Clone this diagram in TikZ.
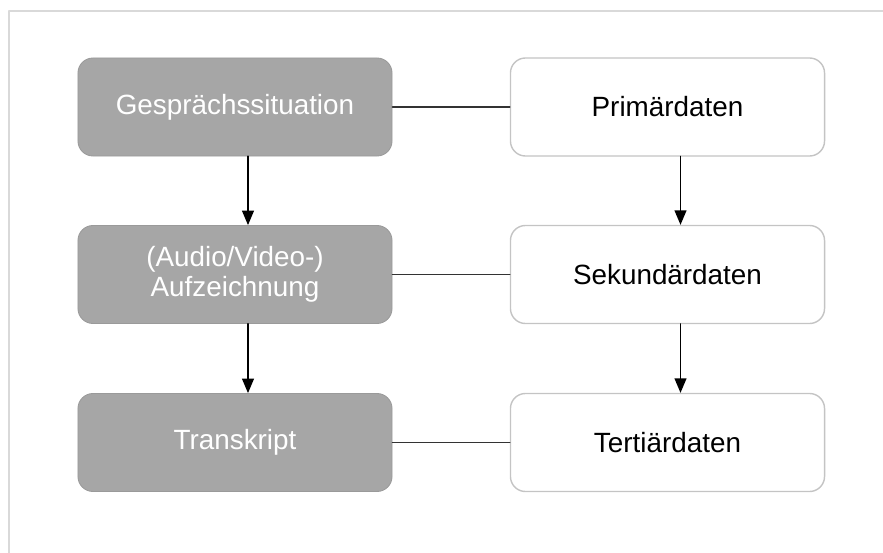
\documentclass[tikz,border=0pt]{standalone}
\usepackage{fontspec}
\setmainfont{Liberation Sans}
\usepackage{xcolor}
\usetikzlibrary{arrows}
\definecolor{boxgray}{HTML}{A6A6A6}
\definecolor{boxline}{HTML}{9A9A9A}
\definecolor{rimgray}{HTML}{C4C4C4}
\definecolor{framegray}{HTML}{D9D9D9}
\tikzset{
  darkbox/.style={rectangle,rounded corners=0.375cm,fill=boxgray,draw=boxline,line width=0.6pt,
    minimum width=7.85cm,minimum height=2.45cm,text=white,align=center,
    font=\fontsize{19.8}{21.5}\selectfont},
  lightbox/.style={rectangle,rounded corners=0.375cm,fill=white,draw=rimgray,line width=1pt,
    minimum width=7.85cm,minimum height=2.45cm,text=black,align=center,
    font=\fontsize{19.8}{21.5}\selectfont},
  link/.style={line width=1.1pt,color=black!80},
  flow/.style={->,line width=1.4pt,color=black}
}
\begin{document}
\begin{tikzpicture}[line cap=round,line join=round,>=triangle 45,x=0.025cm,y=-0.025cm]
\useasboundingbox (0,0) rectangle (883,553);
\draw [color=framegray,line width=1pt] (9,553)-- (9,11)-- (883,11);
% left column
\node[darkbox] (gs) at (235,107) {Gespr\"achssituation};
\node[darkbox] (az) at (235,274.5) {(Audio/Video-)\\Aufzeichnung};
\node[darkbox] (tr) at (235,442.5) {Transkript};
% right column
\node[lightbox] (pd) at (667.5,107) {Prim\"ardaten};
\node[lightbox] (sd) at (667.5,274.5) {Sekund\"ardaten};
\node[lightbox] (td) at (667.5,442.5) {Terti\"ardaten};
% links
\draw [link] (gs) -- (pd);
\draw [link] (az) -- (sd);
\draw [link] (tr) -- (td);
% arrows
\draw [flow] ([xshift=0.325cm]gs.south) -- ([xshift=0.325cm]az.north);
\draw [flow] ([xshift=0.325cm]az.south) -- ([xshift=0.325cm]tr.north);
\draw [flow] ([xshift=0.325cm]pd.south) -- ([xshift=0.325cm]sd.north);
\draw [flow] ([xshift=0.325cm]sd.south) -- ([xshift=0.325cm]td.north);
\end{tikzpicture}
\end{document}
